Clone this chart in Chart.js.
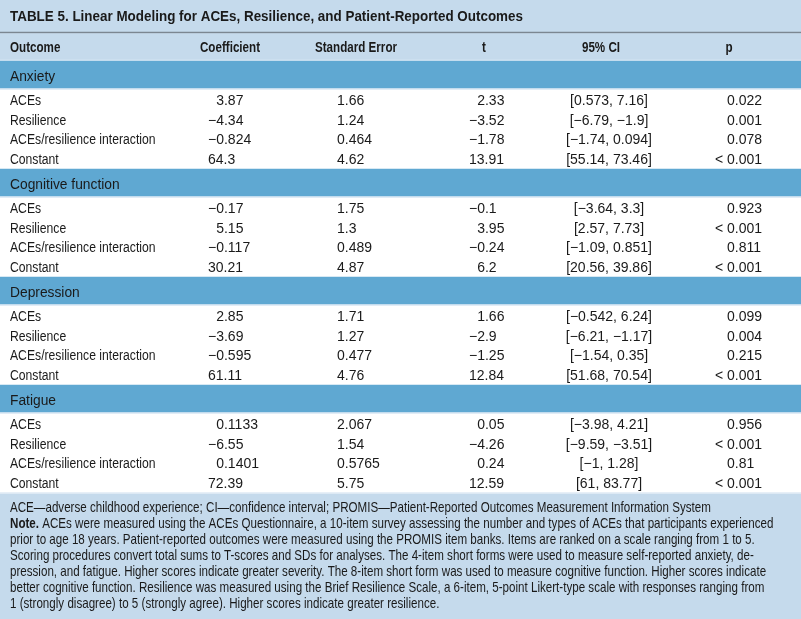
<!DOCTYPE html>
<html>
<head>
<meta charset="utf-8">
<title>Table 5</title>
<script src="https://cdn.jsdelivr.net/npm/chart.js@4.4.1/dist/chart.umd.min.js"></script>
<style>
  html, body { margin: 0; padding: 0; background: #fff; }
  #wrap { width: 801px; height: 619px; position: relative; }
</style>
</head>
<body>
<div id="wrap"><canvas id="table5"></canvas></div>
<script>
const title = 'TABLE 5. Linear Modeling for ACEs, Resilience, and Patient-Reported Outcomes';
const columns = ['Outcome', 'Coefficient', 'Standard Error', 't', '95% CI', 'p'];
const outcomes = ['Anxiety', 'Cognitive function', 'Depression', 'Fatigue'];
const predictors = ['ACEs', 'Resilience', 'ACEs/resilience interaction', 'Constant'];

// one inner list per outcome, in predictor order
const coefficients = [
  [3.87, -4.34, -0.824, 64.3],
  [-0.17, 5.15, -0.117, 30.21],
  [2.85, -3.69, -0.595, 61.11],
  [0.1133, -6.55, 0.1401, 72.39]
];
const stdErrors = [
  [1.66, 1.24, 0.464, 4.62],
  [1.75, 1.3, 0.489, 4.87],
  [1.71, 1.27, 0.477, 4.76],
  [2.067, 1.54, 0.5765, 5.75]
];
const tValues = [
  [2.33, -3.52, -1.78, 13.91],
  [-0.1, 3.95, -0.24, 6.2],
  [1.66, -2.9, -1.25, 12.84],
  [0.05, -4.26, 0.24, 12.59]
];
const ciLower = [
  [0.573, -6.79, -1.74, 55.14],
  [-3.64, 2.57, -1.09, 20.56],
  [-0.542, -6.21, -1.54, 51.68],
  [-3.98, -9.59, -1, 61]
];
const ciUpper = [
  [7.16, -1.9, 0.094, 73.46],
  [3.3, 7.73, 0.851, 39.86],
  [6.24, -1.17, 0.35, 70.54],
  [4.21, -3.51, 1.28, 83.77]
];
const pValues = [
  ['0.022', '0.001', '0.078', '< 0.001'],
  ['0.923', '< 0.001', '0.811', '< 0.001'],
  ['0.099', '0.004', '0.215', '< 0.001'],
  ['0.956', '< 0.001', '0.81', '< 0.001']
];
const abbreviations = 'ACE\u2014adverse childhood experience; CI\u2014confidence interval; PROMIS\u2014Patient-Reported Outcomes Measurement Information System';
const noteLines = [
  'ACEs were measured using the ACEs Questionnaire, a 10-item survey assessing the number and types of ACEs that participants experienced',
  'prior to age 18 years. Patient-reported outcomes were measured using the PROMIS item banks. Items are ranked on a scale ranging from 1 to 5.',
  'Scoring procedures convert total sums to T-scores and SDs for analyses. The 4-item short forms were used to measure self-reported anxiety, de-',
  'pression, and fatigue. Higher scores indicate greater severity. The 8-item short form was used to measure cognitive function. Higher scores indicate',
  'better cognitive function. Resilience was measured using the Brief Resilience Scale, a 6-item, 5-point Likert-type scale with responses ranging from',
  '1 (strongly disagree) to 5 (strongly agree). Higher scores indicate greater resilience.'
];

// ---- layout (scale units = page pixels) ----
const W = 801, H = 619;
const TITLE_BG = '#c5daec';
const SECTION_BG = '#5fa8d2';
const RULE = '#7b8691';
const LIGHT = '#e4eef7';
const INK = '#1a1a1a';

// no narrow face installed, so the narrow text is Liberation Sans squeezed sideways
const SANS = '"Liberation Sans", Arial, sans-serif';
const SQUEEZE = 0.80;

const GROUP_TOP = 61, GROUP_H = 108, BAND_H = 28, FIRST_ROW = 39, ROW_STEP = 19.5;
const FOOT_TOP = 493, FOOT_LINE0 = 507, FOOT_STEP = 16;

// column anchors
const colLabel = 10;
const colCoef = 208;   // left, sign padded
const colSE = 337;     // left
const colT = 469;      // left, sign padded
const colCI = 609;     // centre
const colP = 727;      // left, "<" hangs out
const headCenters = [null, 230, 356, 484, 601, 729];

function groupTop(k) { return GROUP_TOP + GROUP_H * k; }
function rowCenter(k, i) { return groupTop(k) + FIRST_ROW + ROW_STEP * i; }

const bands = [
  { y: [0, 32], color: TITLE_BG },
  { y: [32, 33.5], color: RULE },
  { y: [33.5, 60], color: TITLE_BG },
  { y: [60, 61], color: LIGHT }
];
outcomes.forEach((o, k) => {
  bands.push({ y: [groupTop(k), groupTop(k) + BAND_H], color: SECTION_BG });
  bands.push({ y: [groupTop(k) + BAND_H - 0.5, groupTop(k) + BAND_H + 0.5], color: LIGHT });
});
bands.push({ y: [FOOT_TOP, H], color: TITLE_BG });
bands.push({ y: [FOOT_TOP - 0.5, FOOT_TOP + 0.5], color: LIGHT });

function fmt(v) { return String(v).replace('-', '\u2212'); }

const tableText = {
  id: 'tableText',
  afterDatasetsDraw(chart) {
    const { ctx, scales: { x, y } } = chart;
    ctx.save();
    ctx.fillStyle = INK;
    ctx.textBaseline = 'alphabetic';

    function width(str, size, weight, sx) {
      ctx.font = `${weight} ${size}px ${SANS}`;
      return ctx.measureText(str).width * sx;
    }
    function put(str, cx, cy, size, weight, sx, align) {
      ctx.font = `${weight} ${size}px ${SANS}`;
      ctx.textAlign = align || 'left';
      ctx.save();
      ctx.translate(x.getPixelForValue(cx), y.getPixelForValue(cy) + size * 0.358);
      ctx.scale(sx, 1);
      ctx.fillText(str, 0, 0);
      ctx.restore();
    }
    function padded(v, cx, cy) {
      const s = fmt(v);
      const pad = (/^\d\./.test(s)) ? width('\u2212', 14, 400, 1) : 0;
      put(s, cx + pad, cy, 14, 400, 1);
    }

    put(title, colLabel, 16, 15, 700, 0.895);
    put(columns[0], colLabel, 46.5, 14, 700, 0.83);
    for (let c = 1; c < columns.length; c++) {
      put(columns[c], headCenters[c], 46.5, 14, 700, 0.83, 'center');
    }

    outcomes.forEach((name, k) => {
      put(name, colLabel, groupTop(k) + 14.5, 15.5, 400, 0.89);
      predictors.forEach((pr, i) => {
        const cy = rowCenter(k, i);
        put(pr, colLabel, cy, 14, 400, 0.87);
        padded(coefficients[k][i], colCoef, cy);
        put(fmt(stdErrors[k][i]), colSE, cy, 14, 400, 1);
        padded(tValues[k][i], colT, cy);
        put(`[${fmt(ciLower[k][i])}, ${fmt(ciUpper[k][i])}]`, colCI, cy, 14, 400, 1, 'center');
        const p = pValues[k][i];
        const hang = p.startsWith('<') ? width('< ', 14, 400, 1) : 0;
        put(p, colP - hang, cy, 14, 400, 1);
      });
    });

    put(abbreviations, colLabel, FOOT_LINE0, 14.5, 400, SQUEEZE);
    const noteW = width('Note. ', 14.5, 700, SQUEEZE);
    put('Note.', colLabel, FOOT_LINE0 + FOOT_STEP, 14.5, 700, SQUEEZE);
    noteLines.forEach((line, i) => {
      const lx = i === 0 ? colLabel + noteW : colLabel;
      put(line, lx, FOOT_LINE0 + FOOT_STEP * (i + 1), 14.5, 400, SQUEEZE);
    });
    ctx.restore();
  }
};

new Chart(document.getElementById('table5'), {
  type: 'bar',
  data: {
    datasets: [{
      label: 'bands',
      data: bands.map(b => ({ x: W / 2, y: b.y })),
      backgroundColor: bands.map(b => b.color),
      barThickness: W,
      grouped: false,
      borderWidth: 0,
      borderSkipped: false
    }]
  },
  options: {
    responsive: true,
    maintainAspectRatio: false,
    animation: false,
    events: [],
    layout: { padding: 0 },
    plugins: { legend: { display: false }, tooltip: { enabled: false } },
    scales: {
      x: { type: 'linear', min: 0, max: W, offset: false, display: false },
      y: { type: 'linear', min: 0, max: H, reverse: true, display: false }
    }
  },
  plugins: [tableText]
});
</script>
</body>
</html>
